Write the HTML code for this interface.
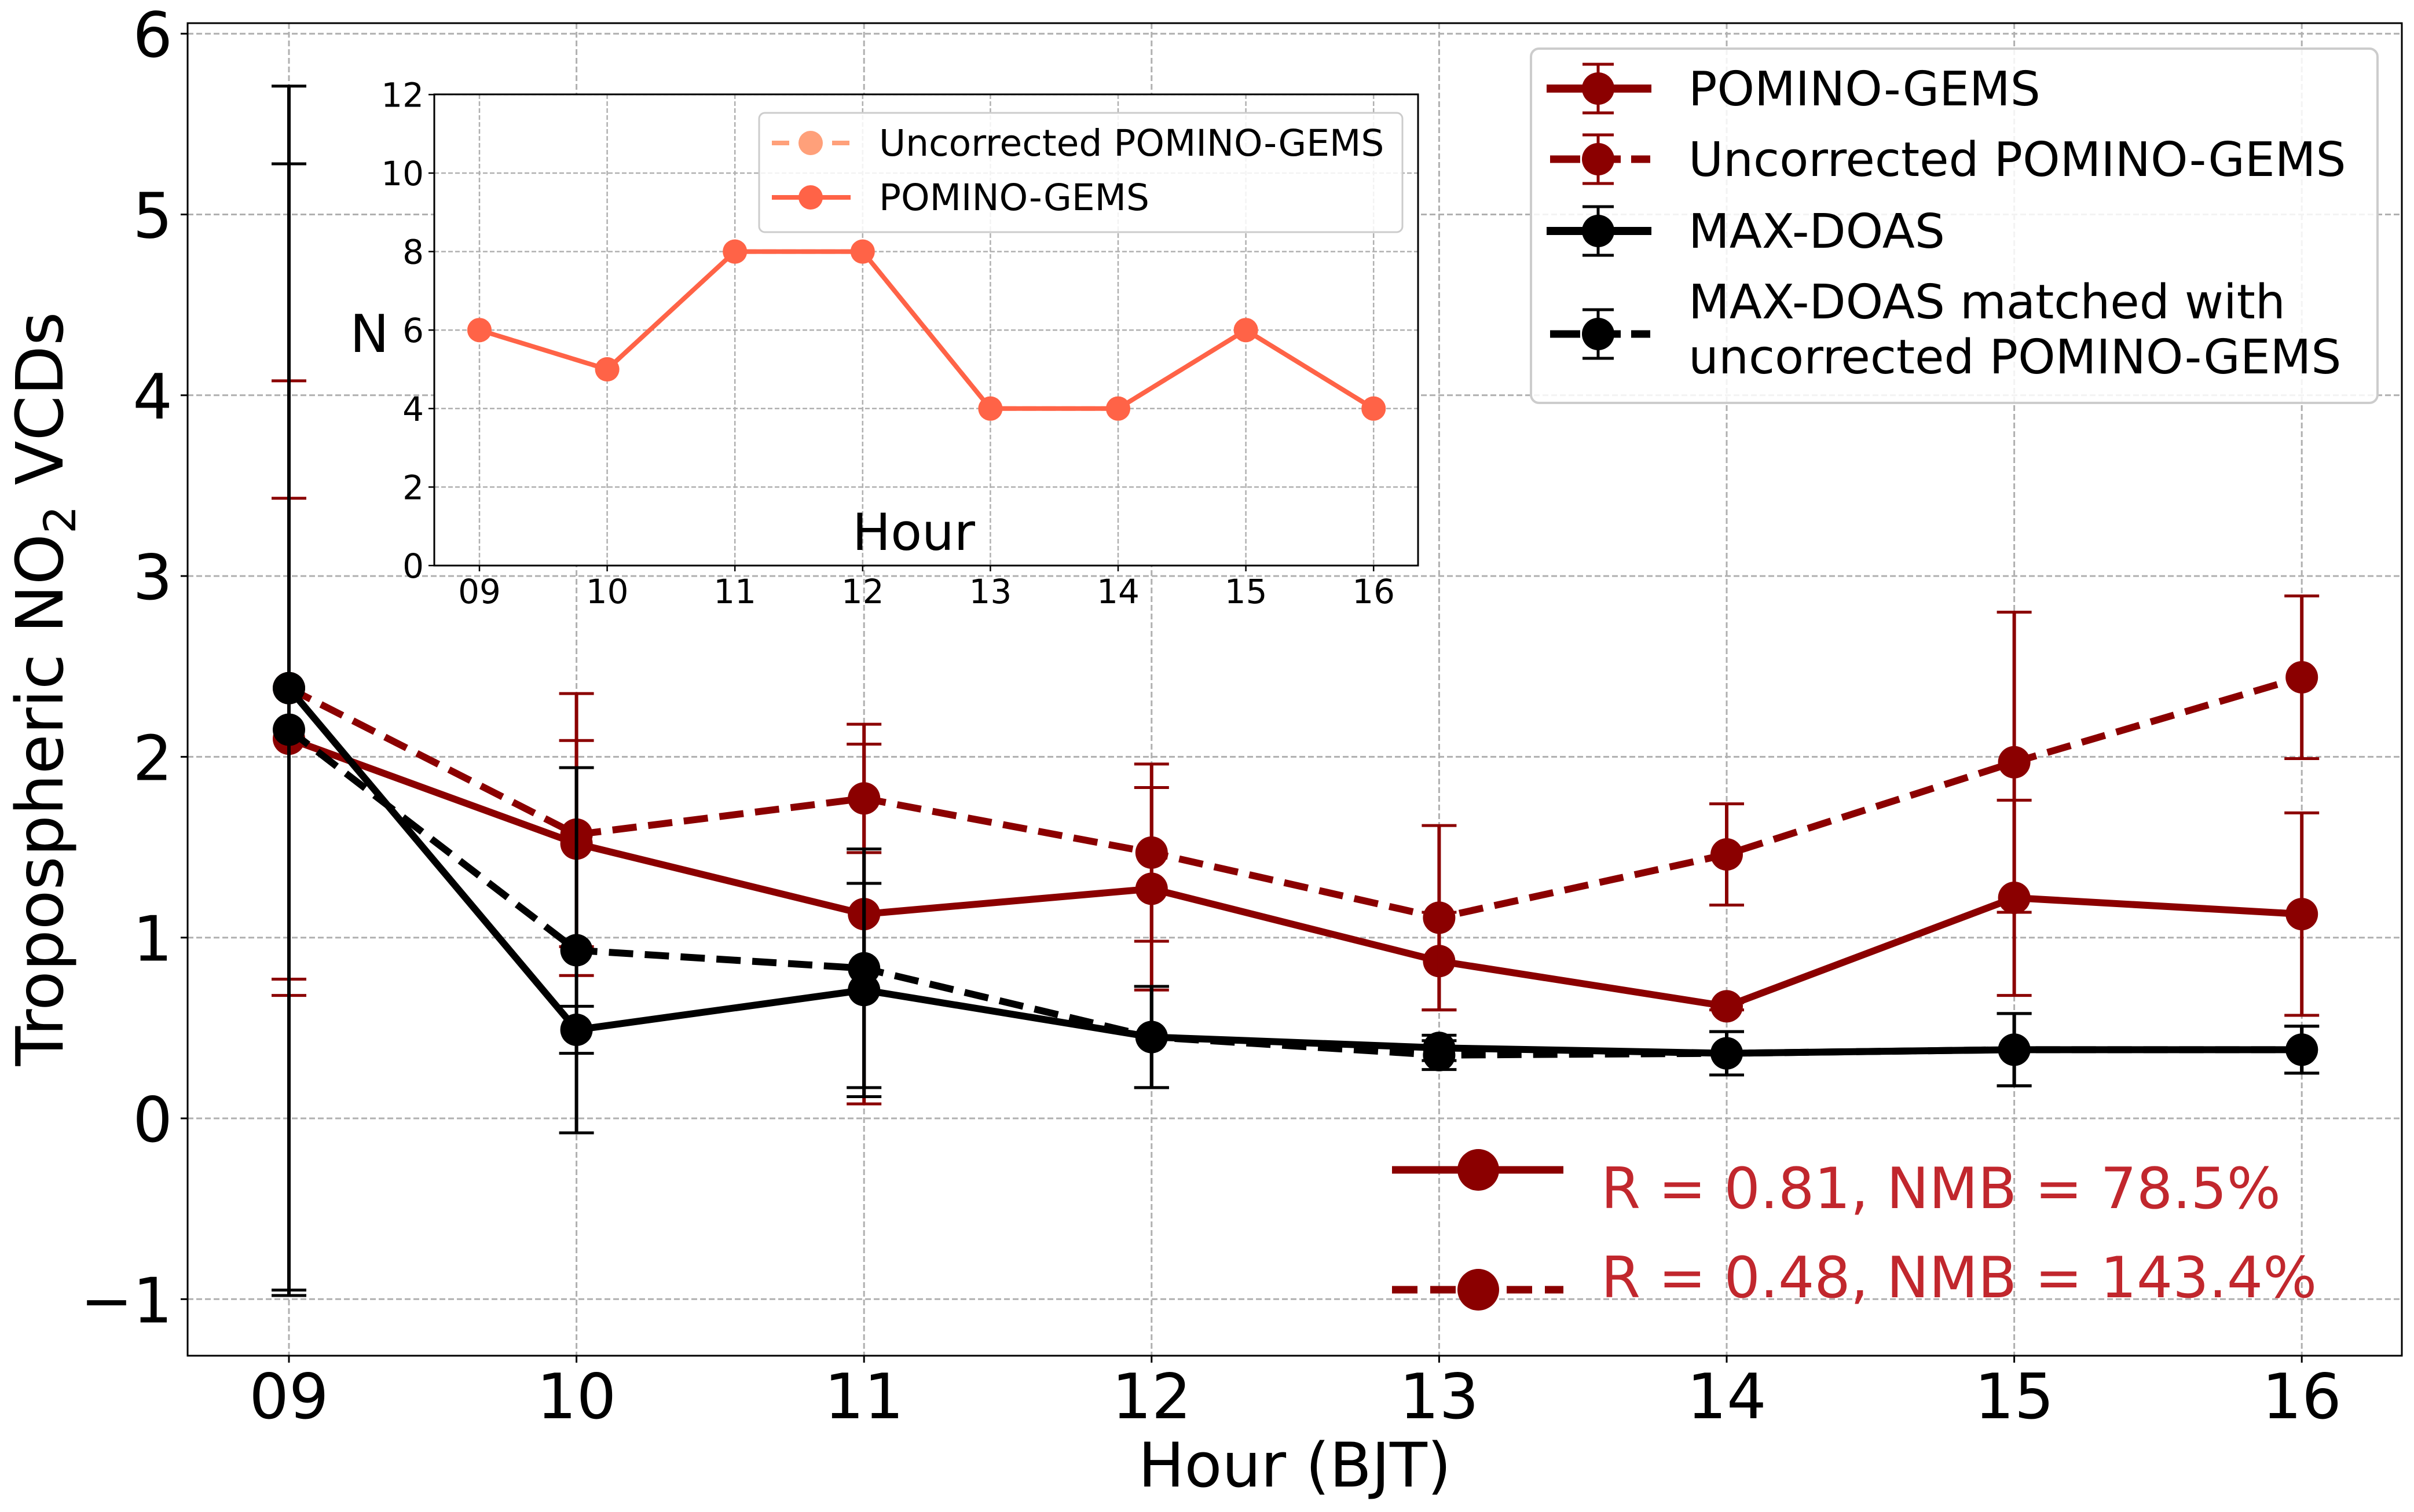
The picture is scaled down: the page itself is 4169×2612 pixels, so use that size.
<!DOCTYPE html>
<html><head><meta charset="utf-8">
<style>
html,body{margin:0;padding:0;background:#fff;}
svg{display:block;font-family:"DejaVu Sans","Liberation Sans",sans-serif;}
</style></head>
<body>
<svg id="chart" width="4169" height="2612" viewBox="0 0 4169 2612" xmlns="http://www.w3.org/2000/svg">
<rect width="4169" height="2612" fill="#fff"/>
<g id="main"></g>
<g id="inset"></g>
</svg>
<script>
const hours = [9,10,11,12,13,14,15,16];
const hourLabels = ["09","10","11","12","13","14","15","16"];
const yTicks = [-1,0,1,2,3,4,5,6];
const pominoVals = [2.10,1.52,1.13,1.27,0.87,0.62,1.22,1.13];
const pominoErr  = [1.33,0.57,1.05,0.56,0.27,0.02,0.54,0.56];
const uncorrVals = [2.38,1.57,1.77,1.47,1.11,1.46,1.97,2.44];
const uncorrErr  = [1.70,0.78,0.30,0.49,0.51,0.28,0.83,0.45];
const maxdoasVals = [2.38,0.49,0.71,0.45,0.39,0.36,0.38,0.38];
const maxdoasErr  = [3.33,0.13,0.59,0.28,0.07,0.12,0.20,0.13];
const matchedVals = [2.15,0.93,0.83,0.45,0.35,0.36,0.38,0.38];
const matchedErr  = [3.13,1.01,0.66,0.28,0.08,0.12,0.20,0.13];
const insetN = [6,5,8,8,4,4,6,4];
const insetYTicks = [0,2,4,6,8,10,12];
const statLines = ["R = 0.81, NMB = 78.5%","R = 0.48, NMB = 143.4%"];

const NS="http://www.w3.org/2000/svg";
function mk(parent,tag,attrs,text){const e=document.createElementNS(NS,tag);for(const k in attrs)e.setAttribute(k,attrs[k]);if(text!==undefined)e.textContent=text;parent.appendChild(e);return e;}

const main=document.getElementById('main');
const L=324,R=4148,T=40,B=2342;
const xs=h=>499+(h-9)*496.6;
const ys=v=>1932-v*312.3;
const DR="#8b0000";

yTicks.forEach(v=>{const g=mk(main,'line',{x1:L,x2:R,y1:ys(v),y2:ys(v),stroke:'#b0b0b0','stroke-width':3,'stroke-dasharray':'10,5'});

});
hours.forEach(h=>{const g=mk(main,'line',{x1:xs(h),x2:xs(h),y1:T,y2:B,stroke:'#b0b0b0','stroke-width':3,'stroke-dasharray':'10,5'});

});
const fr=mk(main,'rect',{x:L,y:T,width:R-L,height:B-T,fill:'none',stroke:'#000','stroke-width':3});


yTicks.forEach(v=>{mk(main,'line',{x1:L-12,x2:L,y1:ys(v),y2:ys(v),stroke:'#000','stroke-width':3});
const t=mk(main,'text',{x:L-26,y:ys(v)+40,'text-anchor':'end','font-size':108},v<0?'\u2212'+Math.abs(v):String(v));

});
hours.forEach((h,i)=>{mk(main,'line',{x1:xs(h),x2:xs(h),y1:B,y2:B+12,stroke:'#000','stroke-width':3});
const t=mk(main,'text',{x:xs(h),y:2450,'text-anchor':'middle','font-size':108},hourLabels[i]);

});
const xl=mk(main,'text',{x:2236,y:2568,'text-anchor':'middle','font-size':106},'Hour (BJT)');


const yl=mk(main,'text',{x:0,y:0,'text-anchor':'middle','font-size':112,transform:'translate(108,1190) rotate(-90)'});


yl.innerHTML='Tropospheric NO<tspan font-size="76" dy="22">2</tspan><tspan dy="-22"> VCDs</tspan>';

function series(vals,errs,color,dash,name){
  const g=mk(main,'g',{});
  
  
  vals.forEach((v,i)=>{const x=xs(hours[i]);
    const e1=mk(g,'line',{x1:x,x2:x,y1:ys(v-errs[i]),y2:ys(v+errs[i]),stroke:color,'stroke-width':6});
    
    
    [v-errs[i],v+errs[i]].forEach(c=>mk(g,'line',{x1:x-30,x2:x+30,y1:ys(c),y2:ys(c),stroke:color,'stroke-width':5}));});
  const pts=vals.map((v,i)=>xs(hours[i])+','+ys(v)).join(' ');
  const pl=mk(g,'polyline',{points:pts,fill:'none',stroke:color,'stroke-width':12,'stroke-dasharray':dash?'42,20':'none'});
  
  
  vals.forEach((v,i)=>{const c=mk(g,'circle',{cx:xs(hours[i]),cy:ys(v),r:28,fill:color});
    
    });
}
series(pominoVals,pominoErr,DR,false,'pomino-gems-series');
series(uncorrVals,uncorrErr,DR,true,'uncorrected-pomino-series');
series(maxdoasVals,maxdoasErr,'#000',false,'maxdoas-series');
series(matchedVals,matchedErr,'#000',true,'maxdoas-matched-series');

const lg=mk(main,'g',{});


mk(lg,'rect',{x:2644,y:84,width:1462,height:612,rx:14,fill:'#fff','fill-opacity':0.85,stroke:'#cccccc','stroke-width':4});
const legItems=[
 {c:DR,d:false,y:153,t:['POMINO-GEMS'],b:[182]},
 {c:DR,d:true,y:275,t:['Uncorrected POMINO-GEMS'],b:[304]},
 {c:'#000',d:false,y:399,t:['MAX-DOAS'],b:[428]},
 {c:'#000',d:true,y:577,t:['MAX-DOAS matched with','uncorrected POMINO-GEMS'],b:[550,645]}];
legItems.forEach(it=>{const g=mk(lg,'g',{});
  
  
  if(it.d){mk(g,'line',{x1:2677,x2:2850,y1:it.y,y2:it.y,stroke:it.c,'stroke-width':13,'stroke-dasharray':'52,18'});}
  else mk(g,'line',{x1:2671,x2:2852,y1:it.y,y2:it.y,stroke:it.c,'stroke-width':14});
  mk(g,'line',{x1:2760,x2:2760,y1:it.y-42,y2:it.y+42,stroke:it.c,'stroke-width':5});
  [it.y-42,it.y+42].forEach(c=>mk(g,'line',{x1:2733,x2:2787,y1:c,y2:c,stroke:it.c,'stroke-width':5}));
  mk(g,'ellipse',{cx:2760,cy:it.y,rx:28,ry:28,fill:it.c});
  it.t.forEach((s,k)=>mk(g,'text',{x:2916,y:it.b[k],'font-size':82},s));});

const sa=mk(main,'g',{});


[[2021,2087,false],[2228,2241,true]].forEach((p,k)=>{
  mk(sa,'line',{x1:2404,x2:2700,y1:p[0],y2:p[0],stroke:DR,'stroke-width':13,'stroke-dasharray':p[2]?'44,22':'none'});
  mk(sa,'circle',{cx:2553,cy:p[0],r:36,fill:DR});
  const t=mk(sa,'text',{x:2765,y:p[1],'font-size':98,fill:'#c1272d'},statLines[k]);
  
  });

const ins=document.getElementById('inset');


const iL=750,iR=2449,iT=163,iB=977;
const ix=h=>828+(h-9)*220.6;
const iy=n=>977-n*67.8;
mk(ins,'rect',{x:iL,y:iT,width:iR-iL,height:iB-iT,fill:'#fff'});
insetYTicks.forEach(v=>{mk(ins,'line',{x1:iL,x2:iR,y1:iy(v),y2:iy(v),stroke:'#b0b0b0','stroke-width':2.5,'stroke-dasharray':'8,4'});
 mk(ins,'line',{x1:iL-10,x2:iL,y1:iy(v),y2:iy(v),stroke:'#000','stroke-width':2.5});
 const t=mk(ins,'text',{x:iL-18,y:iy(v)+21,'text-anchor':'end','font-size':58},String(v));
 
 });
hours.forEach((h,i)=>{mk(ins,'line',{x1:ix(h),x2:ix(h),y1:iT,y2:iB,stroke:'#b0b0b0','stroke-width':2.5,'stroke-dasharray':'8,4'});
 mk(ins,'line',{x1:ix(h),x2:ix(h),y1:iB,y2:iB+10,stroke:'#000','stroke-width':2.5});
 const t=mk(ins,'text',{x:ix(h),y:1042,'text-anchor':'middle','font-size':58},hourLabels[i]);
 
 });
mk(ins,'rect',{x:iL,y:iT,width:iR-iL,height:iB-iT,fill:'none',stroke:'#000','stroke-width':3});
const iyl=mk(ins,'text',{x:638,y:608,'text-anchor':'middle','font-size':90},'N');


const ixl=mk(ins,'text',{x:1578,y:950,'text-anchor':'middle','font-size':88},'Hour');


const ipts=insetN.map((n,i)=>ix(hours[i])+','+iy(n)).join(' ');
const ipl=mk(ins,'polyline',{points:ipts,fill:'none',stroke:'#ffa07a','stroke-width':8,'stroke-dasharray':'24,10'});


insetN.forEach((n,i)=>mk(ins,'circle',{cx:ix(hours[i]),cy:iy(n),r:21,fill:'#ffa07a'}));
const ipl2=mk(ins,'polyline',{points:ipts,fill:'none',stroke:'#ff6347','stroke-width':8});


insetN.forEach((n,i)=>{const c=mk(ins,'circle',{cx:ix(hours[i]),cy:iy(n),r:21,fill:'#ff6347'});
 
 });
const il=mk(ins,'g',{});


mk(il,'rect',{x:1311,y:195,width:1111,height:206,rx:10,fill:'#fff','fill-opacity':0.85,stroke:'#cccccc','stroke-width':3});
[[247,'#ffa07a',true,'Uncorrected POMINO-GEMS',269],[341,'#ff6347',false,'POMINO-GEMS',363]].forEach(e=>{
 const g=mk(il,'g',{});
 
 
 mk(g,'line',{x1:1333,x2:1469,y1:e[0],y2:e[0],stroke:e[1],'stroke-width':8,'stroke-dasharray':e[2]?'30,22':'none'});
 mk(g,'ellipse',{cx:1400,cy:e[0],rx:21,ry:21,fill:e[1]});
 mk(g,'text',{x:1518,y:e[4],'font-size':63},e[3]);});
</script>
</body></html>
